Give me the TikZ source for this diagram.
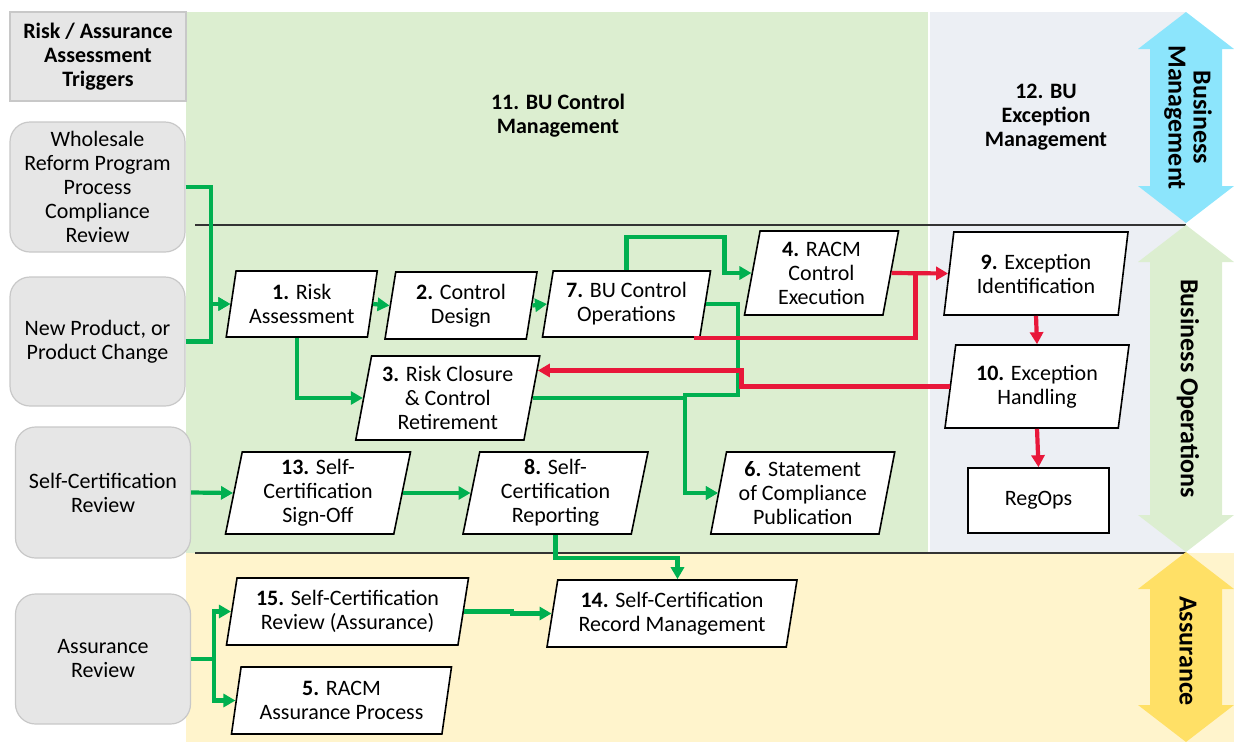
\documentclass[tikz,border=0pt]{standalone}
\usepackage{fontspec}
\setmainfont{Carlito}
\usetikzlibrary{shapes.geometric,arrows.meta,positioning}

\definecolor{flowgreen}{RGB}{0,176,80}
\definecolor{excred}{RGB}{232,23,58}
\definecolor{ctrlbg}{RGB}{220,238,208}
\definecolor{excbg}{RGB}{236,239,244}
\definecolor{assbg}{RGB}{255,244,204}
\definecolor{mgmtcyan}{RGB}{140,229,252}
\definecolor{assyellow}{RGB}{255,224,102}
\definecolor{trigfill}{RGB}{230,230,230}
\definecolor{trigedge}{RGB}{200,200,200}

\newcommand{\figfont}{\fontsize{22}{24}\selectfont}
\newcommand{\lanefont}{\fontsize{26}{25}\selectfont\bfseries}

\tikzset{
  stepbox/.style={trapezium, trapezium left angle=76, trapezium right angle=104,
    trapezium stretches body, draw=black, line width=1.6pt, fill=white,
    inner sep=0pt, align=center},
  trigbox/.style={rectangle, rounded corners=20pt, draw=trigedge, line width=1.2pt,
    fill=trigfill, align=center, minimum width=175pt},
  flow/.style={draw=flowgreen, line width=4.2pt, -{Triangle[length=12pt,width=13pt]}},
  excflow/.style={draw=excred, line width=4.2pt, -{Triangle[length=12pt,width=13pt]}},
  lanelabel/.style={rotate=-90, align=center, font=\lanefont}
}

\begin{document}
\begin{tikzpicture}[x=1pt, y=-1pt, font=\figfont]
  \useasboundingbox (0,0) rectangle (1234,742);
  % swim lanes
  \fill[ctrlbg] (186,12) rectangle (928,553);
  \fill[excbg] (930,12) rectangle (1186,553);
  \fill[assbg] (186,553) rectangle (1234,742);
  \draw[line width=1.2pt, black!80] (195,225) -- (1186,225);
  \draw[line width=1.2pt, black!80] (195,553) -- (1186,553);

  % lane arrows on the right
  \foreach \ya/\yb/\col in {12/223/mgmtcyan, 225/552/ctrlbg, 552/742/assyellow} {
    \fill[\col] (1186,\ya) -- (1234,\ya+37) -- (1222,\ya+37) -- (1222,\yb-37)
      -- (1234,\yb-37) -- (1186,\yb) -- (1138,\yb-37) -- (1150,\yb-37)
      -- (1150,\ya+37) -- (1138,\ya+37) -- cycle;
  }
  \node[lanelabel] (mgmt) at (1188,117.5) {Business\\Management};
  \node[lanelabel] (ops) at (1188,388.5) {Business Operations};
  \node[lanelabel] (assr) at (1188,651) {Assurance};

  \node[font=\figfont\bfseries, align=center] (ctrltitle) at (558,116) {11. BU Control\\Management};
  \node[font=\figfont\bfseries, align=center] (exctitle) at (1046,117) {12. BU\\Exception\\Management};

  % triggers
  \node[rectangle, draw=trigedge, line width=1.2pt, fill=trigfill, minimum width=176pt,
    minimum height=89pt, align=center, font=\figfont\bfseries] (trighdr) at (98,56.5)
    {Risk / Assurance\\Assessment\\Triggers};
  \node[trigbox, minimum height=130pt] (wsr) at (97.5,187) {Wholesale\\Reform Program\\Process\\Compliance\\Review};
  \node[trigbox, minimum height=129pt] (newp) at (97.5,341.5) {New Product, or\\Product Change};
  \node[trigbox, minimum height=131pt] (scr) at (103,492.5) {Self-Certification\\Review};
  \node[trigbox, minimum height=130pt] (asr) at (103,659) {Assurance\\Review};

  % process steps
  \node[stepbox, minimum width=151pt, minimum height=66pt] (risk) at (301.75,304) {\textbf{1.} Risk\\Assessment};
  \node[stepbox, minimum width=152pt, minimum height=67pt] (design) at (461,305.5) {\textbf{2.} Control\\Design};
  \node[stepbox, minimum width=168pt, minimum height=66pt] (buops) at (626.5,304) {\textbf{7.} BU Control\\Operations};
  \node[stepbox, minimum width=184pt, minimum height=84pt] (closure) at (447.75,398) {\textbf{3.} Risk Closure\\\& Control\\Retirement};
  \node[stepbox, minimum width=154pt, minimum height=84pt] (racmexec) at (821.5,273) {\textbf{4.} RACM\\Control\\Execution};
  \node[stepbox, minimum width=184pt, minimum height=83pt] (excid) at (1036,273.5) {\textbf{9.} Exception\\Identification};
  \node[stepbox, minimum width=184pt, minimum height=83pt] (exchand) at (1037,386.5) {\textbf{10.} Exception\\Handling};
  \node[rectangle, draw, line width=1.6pt, fill=white, minimum width=141pt, minimum height=65pt] (regops) at (1038.5,500.5) {RegOps};
  \node[stepbox, minimum width=185pt, minimum height=82pt] (signoff) at (318,493) {\textbf{13.} Self-\\Certification\\Sign-Off};
  \node[stepbox, minimum width=185pt, minimum height=82pt] (screport) at (555.5,493) {\textbf{8.} Self-\\Certification\\Reporting};
  \node[stepbox, minimum width=184pt, minimum height=82pt] (soc) at (802.75,493) {\textbf{6.} Statement\\of Compliance\\Publication};
  \node[stepbox, minimum width=242pt, minimum height=67pt] (screview) at (347.5,611.5) {\textbf{15.} Self-Certification\\Review (Assurance)};
  \node[stepbox, minimum width=250pt, minimum height=67pt] (screcord) at (672,613.5) {\textbf{14.} Self-Certification\\Record Management};
  \node[stepbox, minimum width=220pt, minimum height=67pt] (racmassur) at (341.5,700.5) {\textbf{5.} RACM\\Assurance Process};

  % green flow
  \draw[flow] (wsr.east) -- ++(25,0) |- (risk.left side);
  \draw[flow] (newp.east) -- ++(25,0) |- (risk.left side);
  \draw[flow] (risk.right side) -- (design.left side);
  \draw[flow] (design.right side) -- (buops.left side);
  \draw[flow] (risk.bottom side) |- (closure.left side);
  \draw[flow] (buops.north) -- ++(0,-33) -| ([xshift=-27pt]racmexec.left side) -- (racmexec.left side);
  \draw[flow] (buops.right side) -- ++(32,0) -- ++(0,91) -| ([xshift=-33pt]soc.left side) -- (soc.left side);
  \draw[flow] (closure.right side) -| ([xshift=-33pt]soc.left side) -- (soc.left side);
  \draw[flow] (scr.east) -- (signoff.left side);
  \draw[flow] (signoff.right side) -- ++(35,0) |- (screport.left side);
  \draw[flow] (screport.south) -- ++(0,23) -| (screcord.top side);
  \draw[flow] (asr.east) -- ++(23,0) |- (screview.left side);
  \draw[flow] (asr.east) -- ++(23,0) |- (racmassur.left side);
  \draw[flow] (screview.right side) -- ++(48,0) |- (screcord.left side);

  % red exception flow
  \draw[excflow] (racmexec.right side) -- (excid.left side);
  \draw[excflow, -] ([xshift=-7pt]buops.bottom right corner) -| ([xshift=24pt]racmexec.right side);
  \draw[excflow] (exchand.left side) -- ++(-208,0) |- (closure.17);
  \draw[excflow] (excid.south) -- (exchand.north);
  \draw[excflow] (exchand.south) -- (regops.north);
\end{tikzpicture}
\end{document}
